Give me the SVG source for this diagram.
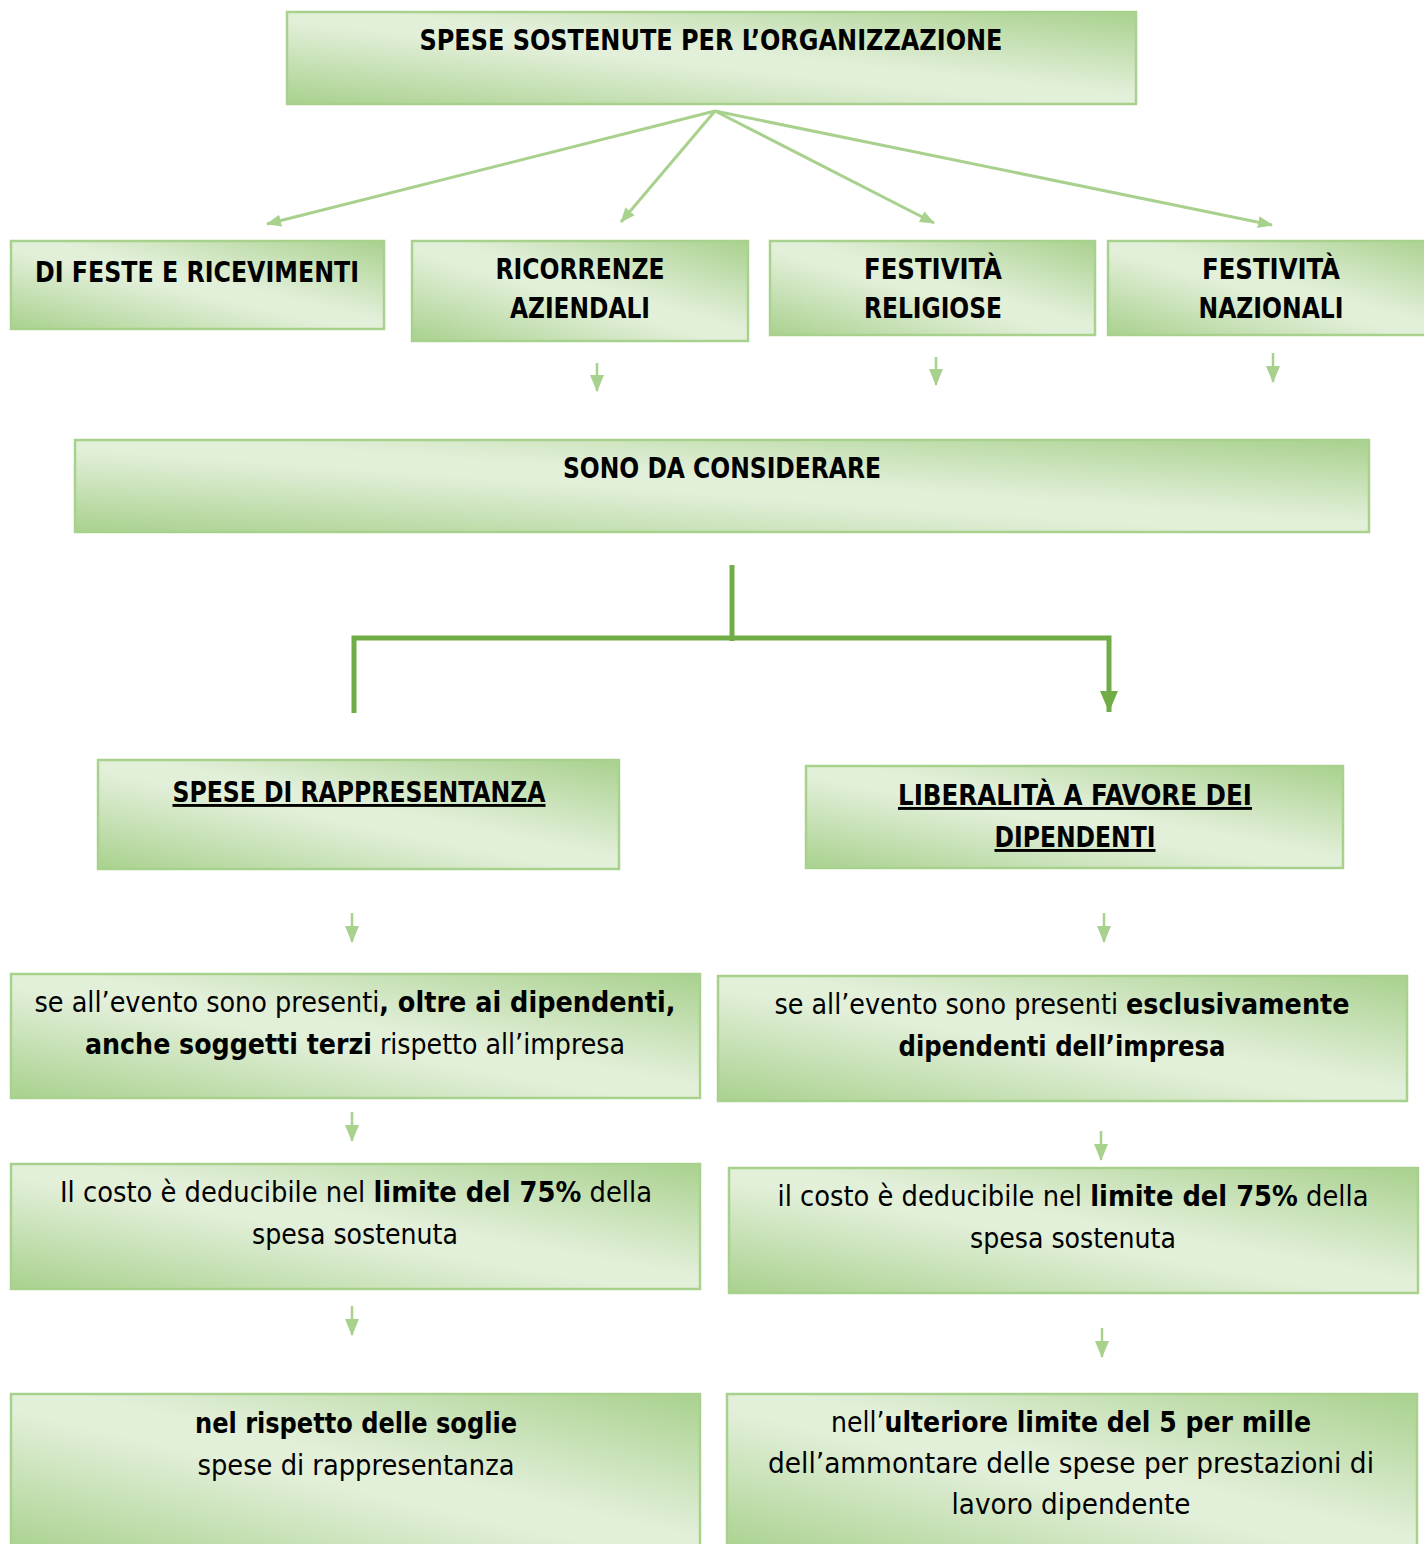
<svg xmlns="http://www.w3.org/2000/svg" width="1424" height="1544" viewBox="0 0 1424 1544">
<defs>
<linearGradient id="g" x1="0" y1="1" x2="1" y2="0">
<stop offset="0" stop-color="#a9d18e"/>
<stop offset="0.45" stop-color="#e2efd9"/>
<stop offset="0.55" stop-color="#e2efd9"/>
<stop offset="1" stop-color="#a9d18e"/>
</linearGradient>
<marker id="ah" markerUnits="userSpaceOnUse" markerWidth="16" markerHeight="16" viewBox="0 0 16 16" refX="14" refY="8" orient="auto">
<path d="M0,2 L15,8 L0,14 Z" fill="#a9d18e"/>
</marker>
<marker id="ahs" markerUnits="userSpaceOnUse" markerWidth="17" markerHeight="17" viewBox="0 0 17 17" refX="16" refY="8.5" orient="auto">
<path d="M0,1.5 L17,8.5 L0,15.5 Z" fill="#a9d18e"/>
</marker>
<marker id="ahd" markerUnits="userSpaceOnUse" markerWidth="22" markerHeight="22" viewBox="0 0 22 22" refX="21" refY="11" orient="auto">
<path d="M0,2 L21,11 L0,20 Z" fill="#70ad47"/>
</marker>
</defs>
<style>
.box{fill:url(#g);stroke:#a9d18e;stroke-width:2.5}
text{font-family:"Liberation Sans Narrow","DejaVu Sans Condensed","Liberation Sans",sans-serif;fill:#000;text-anchor:middle}
.h{font-size:29px;font-weight:bold}
.t{font-size:29px}
.b{font-weight:bold}
.u{text-decoration:underline}
.c{fill:none;stroke:#a9d18e;stroke-width:3}
.s{fill:none;stroke:#a9d18e;stroke-width:2.5}
.d{fill:none;stroke:#70ad47;stroke-width:5}
</style>
<g id="connectors">
<line class="c" x1="715" y1="111" x2="267" y2="224" marker-end="url(#ah)"/>
<line class="c" x1="715" y1="111" x2="621" y2="222" marker-end="url(#ah)"/>
<line class="c" x1="715" y1="111" x2="934" y2="223" marker-end="url(#ah)"/>
<line class="c" x1="715" y1="111" x2="1272" y2="225" marker-end="url(#ah)"/>
<line class="s" x1="597" y1="363" x2="597" y2="391" marker-end="url(#ahs)"/>
<line class="s" x1="936" y1="357" x2="936" y2="385" marker-end="url(#ahs)"/>
<line class="s" x1="1273" y1="353" x2="1273" y2="382" marker-end="url(#ahs)"/>
<line class="s" x1="352" y1="913" x2="352" y2="942" marker-end="url(#ahs)"/>
<line class="s" x1="1104" y1="913" x2="1104" y2="942" marker-end="url(#ahs)"/>
<line class="s" x1="352" y1="1112" x2="352" y2="1141" marker-end="url(#ahs)"/>
<line class="s" x1="1101" y1="1131" x2="1101" y2="1160" marker-end="url(#ahs)"/>
<line class="s" x1="352" y1="1306" x2="352" y2="1335" marker-end="url(#ahs)"/>
<line class="s" x1="1102" y1="1328" x2="1102" y2="1357" marker-end="url(#ahs)"/>
<line class="d" x1="732" y1="565" x2="732" y2="641"/>
<path class="d" d="M354,713 V638 H1109 V712" marker-end="url(#ahd)"/>
</g>
<g id="n-top">
<rect class="box" x="287" y="12" width="849" height="92"/>
<text class="h" x="711" y="50" textLength="583" lengthAdjust="spacingAndGlyphs">SPESE SOSTENUTE PER L’ORGANIZZAZIONE</text>
</g>
<g id="n-feste">
<rect class="box" x="11" y="241" width="373" height="88"/>
<text class="h" x="197" y="282" textLength="324" lengthAdjust="spacingAndGlyphs">DI FESTE E RICEVIMENTI</text>
</g>
<g id="n-ricorrenze">
<rect class="box" x="412" y="241" width="336" height="100"/>
<text class="h" x="580" y="279" textLength="169" lengthAdjust="spacingAndGlyphs">RICORRENZE</text>
<text class="h" x="580" y="318" textLength="140" lengthAdjust="spacingAndGlyphs">AZIENDALI</text>
</g>
<g id="n-religiose">
<rect class="box" x="770" y="241" width="325" height="94"/>
<text class="h" x="933" y="279" textLength="138" lengthAdjust="spacingAndGlyphs">FESTIVITÀ</text>
<text class="h" x="933" y="318" textLength="138" lengthAdjust="spacingAndGlyphs">RELIGIOSE</text>
</g>
<g id="n-nazionali">
<rect class="box" x="1108" y="241" width="330" height="94"/>
<text class="h" x="1271" y="279" textLength="138" lengthAdjust="spacingAndGlyphs">FESTIVITÀ</text>
<text class="h" x="1271" y="318" textLength="145" lengthAdjust="spacingAndGlyphs">NAZIONALI</text>
</g>
<g id="n-considerare">
<rect class="box" x="75" y="440" width="1294" height="92"/>
<text class="h" x="722" y="478" textLength="318" lengthAdjust="spacingAndGlyphs">SONO DA CONSIDERARE</text>
</g>
<g id="n-rappresentanza">
<rect class="box" x="98" y="760" width="521" height="109"/>
<text class="h u" x="359" y="802" textLength="373" lengthAdjust="spacingAndGlyphs">SPESE DI RAPPRESENTANZA</text>
</g>
<g id="n-liberalita">
<rect class="box" x="806" y="766" width="537" height="102"/>
<text class="h u" x="1075" y="805" textLength="354" lengthAdjust="spacingAndGlyphs">LIBERALITÀ A FAVORE DEI</text>
<text class="h u" x="1075" y="847" textLength="161" lengthAdjust="spacingAndGlyphs">DIPENDENTI</text>
</g>
<g id="n-terzi">
<rect class="box" x="11" y="974" width="689" height="124"/>
<text class="t" x="355" y="1012" textLength="641" lengthAdjust="spacingAndGlyphs">se all’evento sono presenti<tspan class="b">, oltre ai dipendenti,</tspan></text>
<text class="t" x="355" y="1054" textLength="540" lengthAdjust="spacingAndGlyphs"><tspan class="b">anche soggetti terzi</tspan> rispetto all’impresa</text>
</g>
<g id="n-esclusivamente">
<rect class="box" x="718" y="976" width="689" height="125"/>
<text class="t" x="1062" y="1014" textLength="575" lengthAdjust="spacingAndGlyphs">se all’evento sono presenti <tspan class="b">esclusivamente</tspan></text>
<text class="t b" x="1062" y="1056" textLength="327" lengthAdjust="spacingAndGlyphs">dipendenti dell’impresa</text>
</g>
<g id="n-costo-left">
<rect class="box" x="11" y="1164" width="689" height="125"/>
<text class="t" x="356" y="1202" textLength="592" lengthAdjust="spacingAndGlyphs">Il costo è deducibile nel <tspan class="b">limite del 75%</tspan> della</text>
<text class="t" x="355" y="1244" textLength="206" lengthAdjust="spacingAndGlyphs">spesa sostenuta</text>
</g>
<g id="n-costo-right">
<rect class="box" x="729" y="1168" width="689" height="125"/>
<text class="t" x="1073" y="1206" textLength="591" lengthAdjust="spacingAndGlyphs">il costo è deducibile nel <tspan class="b">limite del 75%</tspan> della</text>
<text class="t" x="1073" y="1248" textLength="206" lengthAdjust="spacingAndGlyphs">spesa sostenuta</text>
</g>
<g id="n-soglie">
<rect class="box" x="11" y="1394" width="689" height="160"/>
<text class="t b" x="356" y="1433" textLength="322" lengthAdjust="spacingAndGlyphs">nel rispetto delle soglie</text>
<text class="t" x="356" y="1475" textLength="317" lengthAdjust="spacingAndGlyphs">spese di rappresentanza</text>
</g>
<g id="n-mille">
<rect class="box" x="727" y="1394" width="690" height="160"/>
<text class="t" x="1071" y="1432" textLength="480" lengthAdjust="spacingAndGlyphs">nell’<tspan class="b">ulteriore limite del 5 per mille</tspan></text>
<text class="t" x="1071" y="1473" textLength="606" lengthAdjust="spacingAndGlyphs">dell’ammontare delle spese per prestazioni di</text>
<text class="t" x="1071" y="1514" textLength="239" lengthAdjust="spacingAndGlyphs">lavoro dipendente</text>
</g>
</svg>
